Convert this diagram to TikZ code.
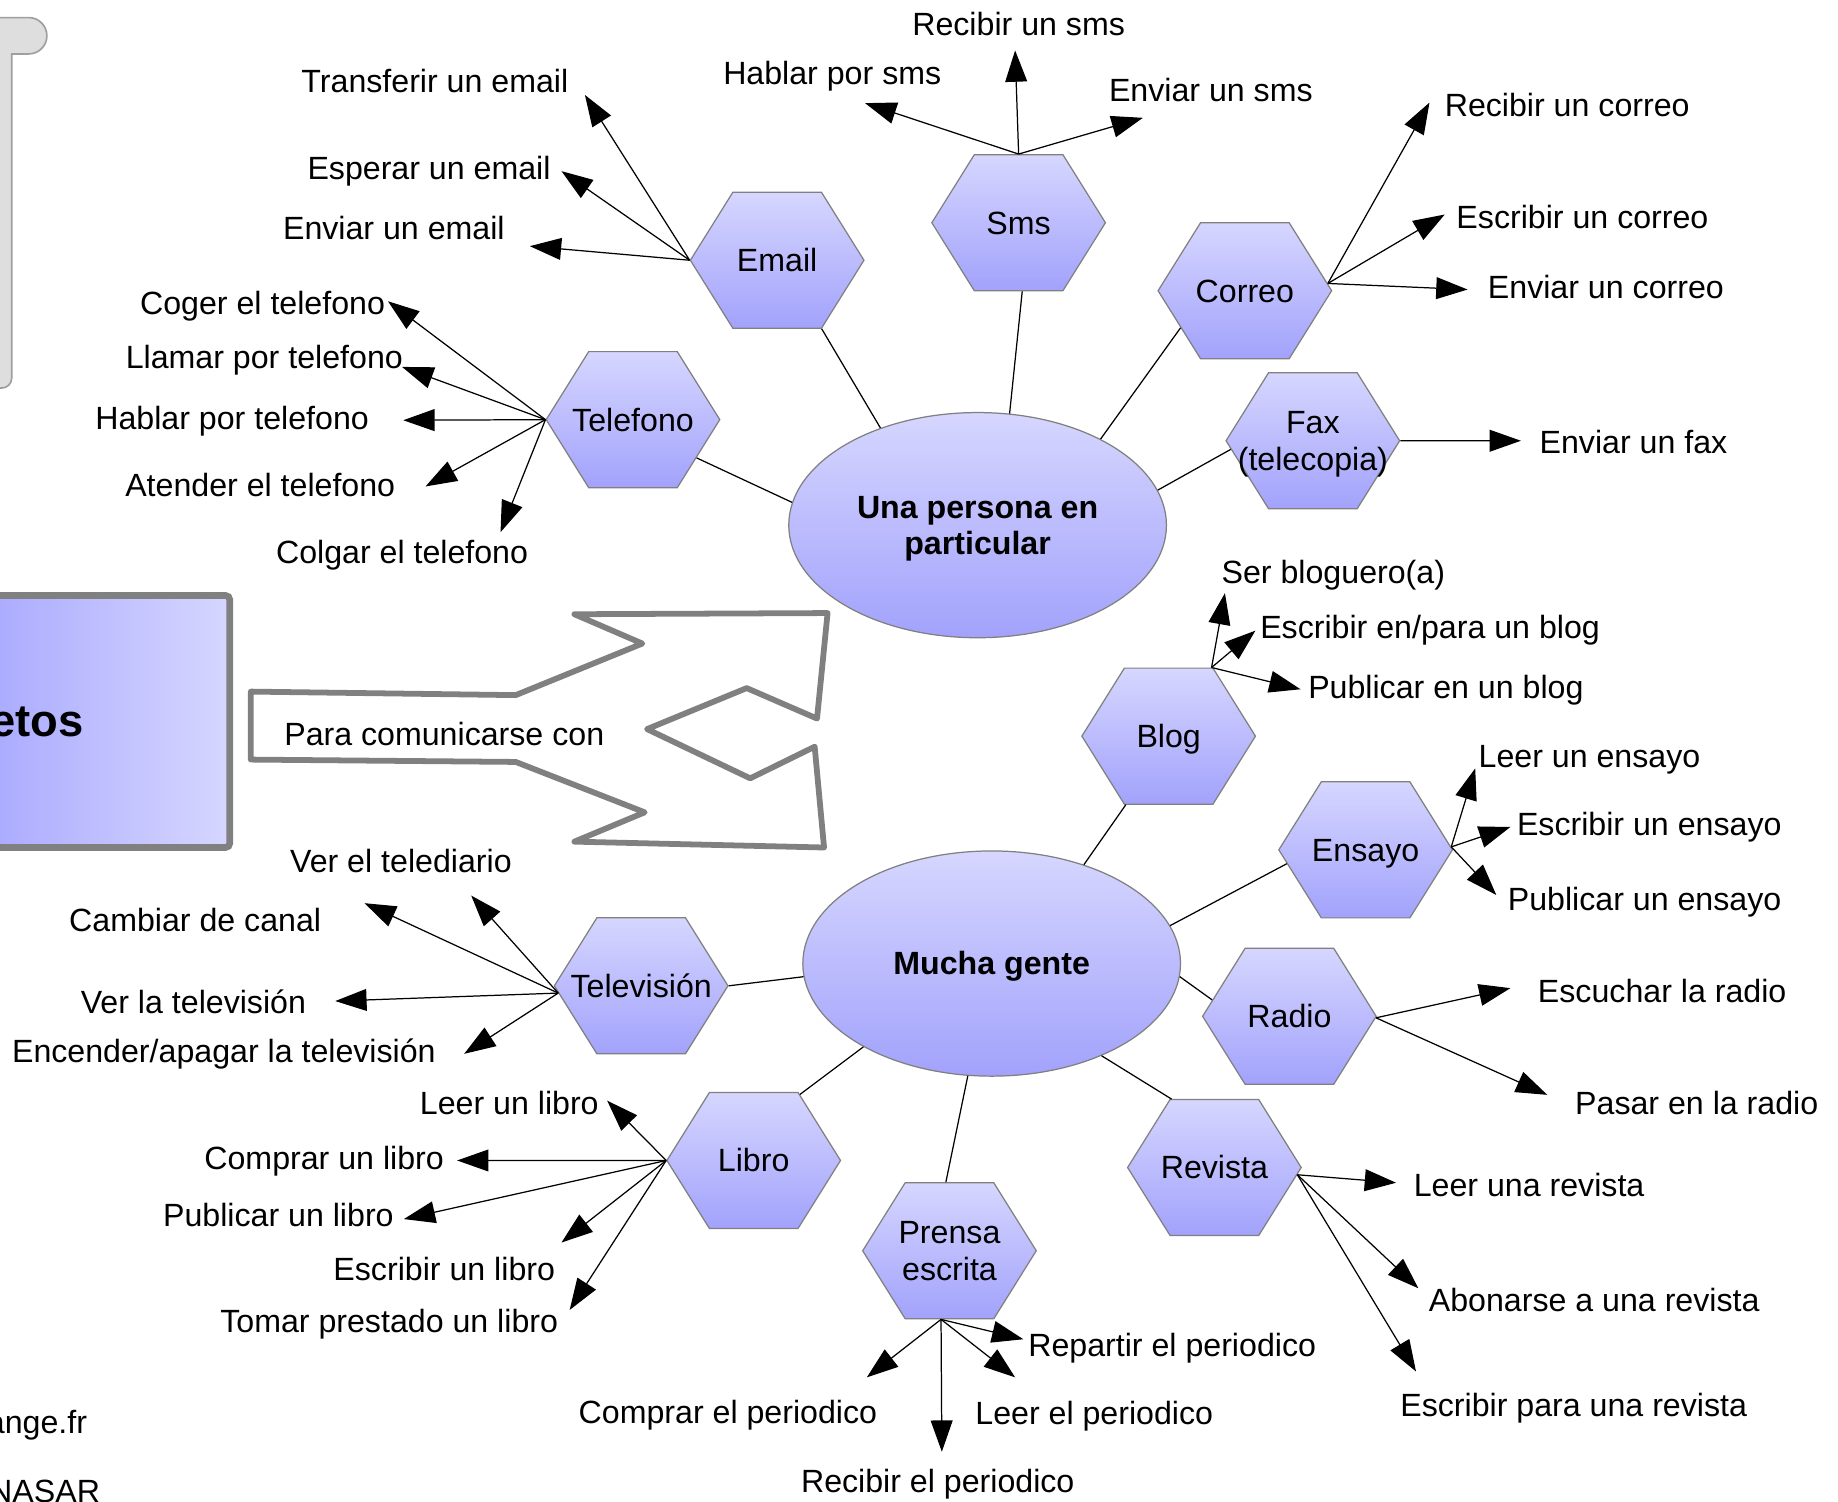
\documentclass[tikz,border=0pt]{standalone}
\usepackage{fontspec}
\setmainfont{Liberation Sans}
\usetikzlibrary{shapes.geometric}
\usetikzlibrary{shapes.symbols}
\usetikzlibrary{arrows.meta}
\tikzset{>={Triangle[length=7.6pt, width=5.3pt]}}
\definecolor{lavtop}{RGB}{214,214,255}
\definecolor{lavbot}{RGB}{162,162,252}
\definecolor{boxleft}{RGB}{168,168,255}
\definecolor{rimgray}{RGB}{128,128,128}
\definecolor{slate}{RGB}{222,222,222}
\newcommand{\txtfont}{\fontsize{7.8}{8.8}\selectfont}
\newcommand{\midbox}[1]{\raisebox{-1pt}[\height][\depth]{\begin{tabular}{@{}c@{}}#1\end{tabular}}}
\newcommand{\hexbox}[1]{\makebox[0pt]{\midbox{#1}}}
\tikzset{
  hexa/.style={shape=signal, signal to=east and west, signal pointer angle=116,
    minimum width=1.48cm, minimum height=1.16cm, inner sep=0pt,
    draw=rimgray, line width=.3pt, top color=lavtop, bottom color=lavbot, font=\txtfont},
  oval/.style={shape=ellipse, minimum width=3.22cm, minimum height=1.92cm, inner sep=0pt,
    draw=rimgray, line width=.3pt, top color=lavtop, bottom color=lavbot,
    font=\txtfont\bfseries},
  lbl/.style={anchor=base, inner sep=0pt, font=\txtfont},
  link/.style={line width=.3pt},
  arr/.style={line width=.3pt, ->},
}

\begin{document}
\begin{tikzpicture}[x=0.01cm, y=-0.01cm]
  \useasboundingbox (0,0) rectangle (1568,1281);
  \fill[white] (0,0) rectangle (1568,1281);
  % cut panels at the left edge
  \draw[draw=gray!75, fill=slate] (-10,15) [rounded corners=4.4pt] -- (40,15) -- (40,46) [sharp corners] -- (10,46) [rounded corners=2.4pt] -- (10,331) [sharp corners] -- (-10,331) -- cycle;
  \draw[draw=rimgray, line width=1.6pt, left color=boxleft, right color=lavtop, rounded corners=1pt] (-20,508) rectangle (196,723);
  \node[anchor=base east, inner sep=0pt, font=\fontsize{11}{13}\selectfont\bfseries] (objetos) at (72,628.5) {etos};
  \node[anchor=base east, inner sep=0pt, font=\txtfont] (web) at (75,1222.5) {ange.fr};
  \node[anchor=base east, inner sep=0pt, font=\txtfont] (firma) at (86,1281.5) {NASAR};
  % big arrow
  \draw[draw=rimgray, line width=1.4pt, line join=round] (214,590) -- (440,593) -- (548,549) -- (490,524) -- (706,523) -- (697,613) -- (637,587) -- (552,622) -- (640,664) -- (695,637) -- (703,723) -- (490,718) -- (550,693) -- (440,650) -- (214,648) -- cycle;
  \node[lbl] (para) at (379,636) {Para comunicarse con};

  % centres
  \node[oval] (persona) at (834,448) {\midbox{Una persona en\\particular}};
  \node[oval] (gente) at (846,822) {\midbox{Mucha gente}};

  % media
  \node[hexa] (email) at (663,222) {\hexbox{Email}};
  \node[hexa] (sms) at (869,190) {\hexbox{Sms}};
  \node[hexa] (correo) at (1062,248) {\hexbox{Correo}};
  \node[hexa] (fax) at (1120,376) {\hexbox{Fax\\(telecopia)}};
  \node[hexa] (telefono) at (540,358) {\hexbox{Telefono}};
  \node[hexa] (blog) at (997,628) {\hexbox{Blog}};
  \node[hexa] (ensayo) at (1165,725) {\hexbox{Ensayo}};
  \node[hexa] (radio) at (1100,867) {\hexbox{Radio}};
  \node[hexa] (revista) at (1036,996) {\hexbox{Revista}};
  \node[hexa] (prensa) at (810,1067) {\hexbox{Prensa\\escrita}};
  \node[hexa] (libro) at (643,990) {\hexbox{Libro}};
  \node[hexa] (tele) at (547,841) {\hexbox{Televisión}};

  % links to the centres
  \draw[link] (persona.135.3) -- (email.-57.5);
  \draw[link] (persona.74.6) -- (sms.-87);
  \draw[link] (persona.35.7) -- (correo.210.6);
  \draw[link] (persona.11.8) -- (fax.186.7);
  \draw[link] (persona.173.3) -- (telefono.-31.7);
  \draw[link] (gente.47.4) -- (blog.238.4);
  \draw[link] (gente.12.1) -- (ensayo.190.6);
  \draw[link] (gente.-4.5) -- (radio.168.2);
  \draw[link] (gente.-40.5) -- (revista.122.3);
  \draw[link] (gente.258.8) -- (prensa.93);
  \draw[link] (gente.213) -- (libro.55.5);
  \draw[link] (gente.184.6) -- (tele.0);

  % email
  \node[lbl] (transferir) at (371,79) {Transferir un email};
  \node[lbl] (esperar) at (366,153) {Esperar un email};
  \node[lbl] (enviaremail) at (336,204) {Enviar un email};
  \coordinate (t-transferir) at (499,81);
  \coordinate (t-esperar) at (479,146);
  \coordinate (t-enviaremail) at (452,210);
  \draw[arr] (email.180) -- (t-transferir);
  \draw[arr] (email.180) -- (t-esperar);
  \draw[arr] (email.180) -- (t-enviaremail);

  % sms
  \node[lbl] (recibirsms) at (869,30) {Recibir un sms};
  \node[lbl] (hablarsms) at (710,72) {Hablar por sms};
  \node[lbl] (enviarsms) at (1033,86.5) {Enviar un sms};
  \coordinate (t-recibirsms) at (866,43);
  \coordinate (t-hablarsms) at (738,88);
  \coordinate (t-enviarsms) at (975,100.5);
  \draw[arr] (sms.90) -- (t-recibirsms);
  \draw[arr] (sms.90) -- (t-hablarsms);
  \draw[arr] (sms.90) -- (t-enviarsms);

  % correo
  \node[lbl] (recibircorreo) at (1337,99) {Recibir un correo};
  \node[lbl] (escribircorreo) at (1350,195) {Escribir un correo};
  \node[lbl] (enviarcorreo) at (1370,254.5) {Enviar un correo};
  \coordinate (t-recibircorreo) at (1219.5,87.5);
  \coordinate (t-escribircorreo) at (1232.5,183);
  \coordinate (t-enviarcorreo) at (1252,247);
  \draw[arr] (correo.5) -- (t-recibircorreo);
  \draw[arr] (correo.5) -- (t-escribircorreo);
  \draw[arr] (correo.5) -- (t-enviarcorreo);

  % fax
  \node[lbl] (enviarfax) at (1393.5,387) {Enviar un fax};
  \coordinate (t-enviarfax) at (1297.5,376);
  \draw[arr] (fax.0) -- (t-enviarfax);

  % telefono
  \node[lbl] (coger) at (224,268.5) {Coger el telefono};
  \node[lbl] (llamar) at (225.5,314) {Llamar por telefono};
  \node[lbl] (hablartel) at (198,366.5) {Hablar por telefono};
  \node[lbl] (atender) at (222,423.5) {Atender el telefono};
  \node[lbl] (colgar) at (343,480.5) {Colgar el telefono};
  \coordinate (t-coger) at (331,257);
  \coordinate (t-llamar) at (343,313);
  \coordinate (t-hablartel) at (344,358.5);
  \coordinate (t-atender) at (363,415);
  \coordinate (t-colgar) at (427,454);
  \draw[arr] (telefono.180) -- (t-coger);
  \draw[arr] (telefono.180) -- (t-llamar);
  \draw[arr] (telefono.180) -- (t-hablartel);
  \draw[arr] (telefono.180) -- (t-atender);
  \draw[arr] (telefono.180) -- (t-colgar);

  % blog
  \node[lbl] (serblog) at (1137.5,498) {Ser bloguero(a)};
  \node[lbl] (escribirblog) at (1220,545) {Escribir en/para un blog};
  \node[lbl] (publicarblog) at (1233.5,596) {Publicar en un blog};
  \coordinate (t-serblog) at (1045,506);
  \coordinate (t-escribirblog) at (1071,538);
  \coordinate (t-publicarblog) at (1109.5,588);
  \draw[arr] (blog.58.8) -- (t-serblog);
  \draw[arr] (blog.58.8) -- (t-escribirblog);
  \draw[arr] (blog.58.8) -- (t-publicarblog);

  % ensayo
  \node[lbl] (leerensayo) at (1356,655) {Leer un ensayo};
  \node[lbl] (escribirensayo) at (1407,713) {Escribir un ensayo};
  \node[lbl] (publicarensayo) at (1403,777) {Publicar un ensayo};
  \coordinate (t-leerensayo) at (1258.5,655.5);
  \coordinate (t-escribirensayo) at (1288.5,705.5);
  \coordinate (t-publicarensayo) at (1276.5,763.5);
  \draw[arr] (ensayo.2) -- (t-leerensayo);
  \draw[arr] (ensayo.2) -- (t-escribirensayo);
  \draw[arr] (ensayo.2) -- (t-publicarensayo);

  % radio
  \node[lbl] (escuchar) at (1418,855) {Escuchar la radio};
  \node[lbl] (pasar) at (1447.5,951) {Pasar en la radio};
  \coordinate (t-escuchar) at (1288.5,843);
  \coordinate (t-pasar) at (1320,934);
  \draw[arr] (radio.-1) -- (t-escuchar);
  \draw[arr] (radio.-1) -- (t-pasar);

  % revista
  \node[lbl] (leerrevista) at (1304.5,1021) {Leer una revista};
  \node[lbl] (abonarse) at (1360,1119) {Abonarse a una revista};
  \node[lbl] (escribirrevista) at (1342.5,1208) {Escribir para una revista};
  \coordinate (t-leerrevista) at (1191,1009);
  \coordinate (t-abonarse) at (1210,1099);
  \coordinate (t-escribirrevista) at (1208,1170);
  \draw[arr] (revista.-5.4) -- (t-leerrevista);
  \draw[arr] (revista.-5.4) -- (t-abonarse);
  \draw[arr] (revista.-5.4) -- (t-escribirrevista);

  % prensa escrita
  \node[lbl] (comprarper) at (621,1214) {Comprar el periodico};
  \node[lbl] (recibirper) at (800,1273) {Recibir el periodico};
  \node[lbl] (leerper) at (933.5,1215) {Leer el periodico};
  \node[lbl] (repartir) at (1000,1157) {Repartir el periodico};
  \coordinate (t-comprarper) at (739.5,1175);
  \coordinate (t-recibirper) at (803.5,1238.5);
  \coordinate (t-leerper) at (866,1175);
  \coordinate (t-repartir) at (873,1142.5);
  \draw[arr] (prensa.263) -- (t-comprarper);
  \draw[arr] (prensa.263) -- (t-recibirper);
  \draw[arr] (prensa.263) -- (t-leerper);
  \draw[arr] (prensa.263) -- (t-repartir);

  % libro
  \node[lbl] (leerlibro) at (434.5,951) {Leer un libro};
  \node[lbl] (comprarlibro) at (276.5,998) {Comprar un libro};
  \node[lbl] (publicarlibro) at (237.5,1046) {Publicar un libro};
  \node[lbl] (escribirlibro) at (379,1092) {Escribir un libro};
  \node[lbl] (tomar) at (332,1137) {Tomar prestado un libro};
  \coordinate (t-leerlibro) at (518,939);
  \coordinate (t-comprarlibro) at (390,990);
  \coordinate (t-publicarlibro) at (344.5,1040);
  \coordinate (t-escribirlibro) at (479,1060);
  \coordinate (t-tomar) at (486,1117.5);
  \draw[arr] (libro.180) -- (t-leerlibro);
  \draw[arr] (libro.180) -- (t-comprarlibro);
  \draw[arr] (libro.180) -- (t-publicarlibro);
  \draw[arr] (libro.180) -- (t-escribirlibro);
  \draw[arr] (libro.180) -- (t-tomar);

  % television
  \node[lbl] (telediario) at (342,744) {Ver el telediario};
  \node[lbl] (cambiar) at (166.5,795) {Cambiar de canal};
  \node[lbl] (verlatv) at (165,865) {Ver la televisión};
  \node[lbl] (encender) at (191,906.5) {Encender/apagar la televisión};
  \coordinate (t-telediario) at (402,764);
  \coordinate (t-cambiar) at (311,770.5);
  \coordinate (t-verlatv) at (286,854);
  \coordinate (t-encender) at (396,899);
  \draw[arr] (tele.185) -- (t-telediario);
  \draw[arr] (tele.185) -- (t-cambiar);
  \draw[arr] (tele.185) -- (t-verlatv);
  \draw[arr] (tele.185) -- (t-encender);
\end{tikzpicture}
\end{document}
